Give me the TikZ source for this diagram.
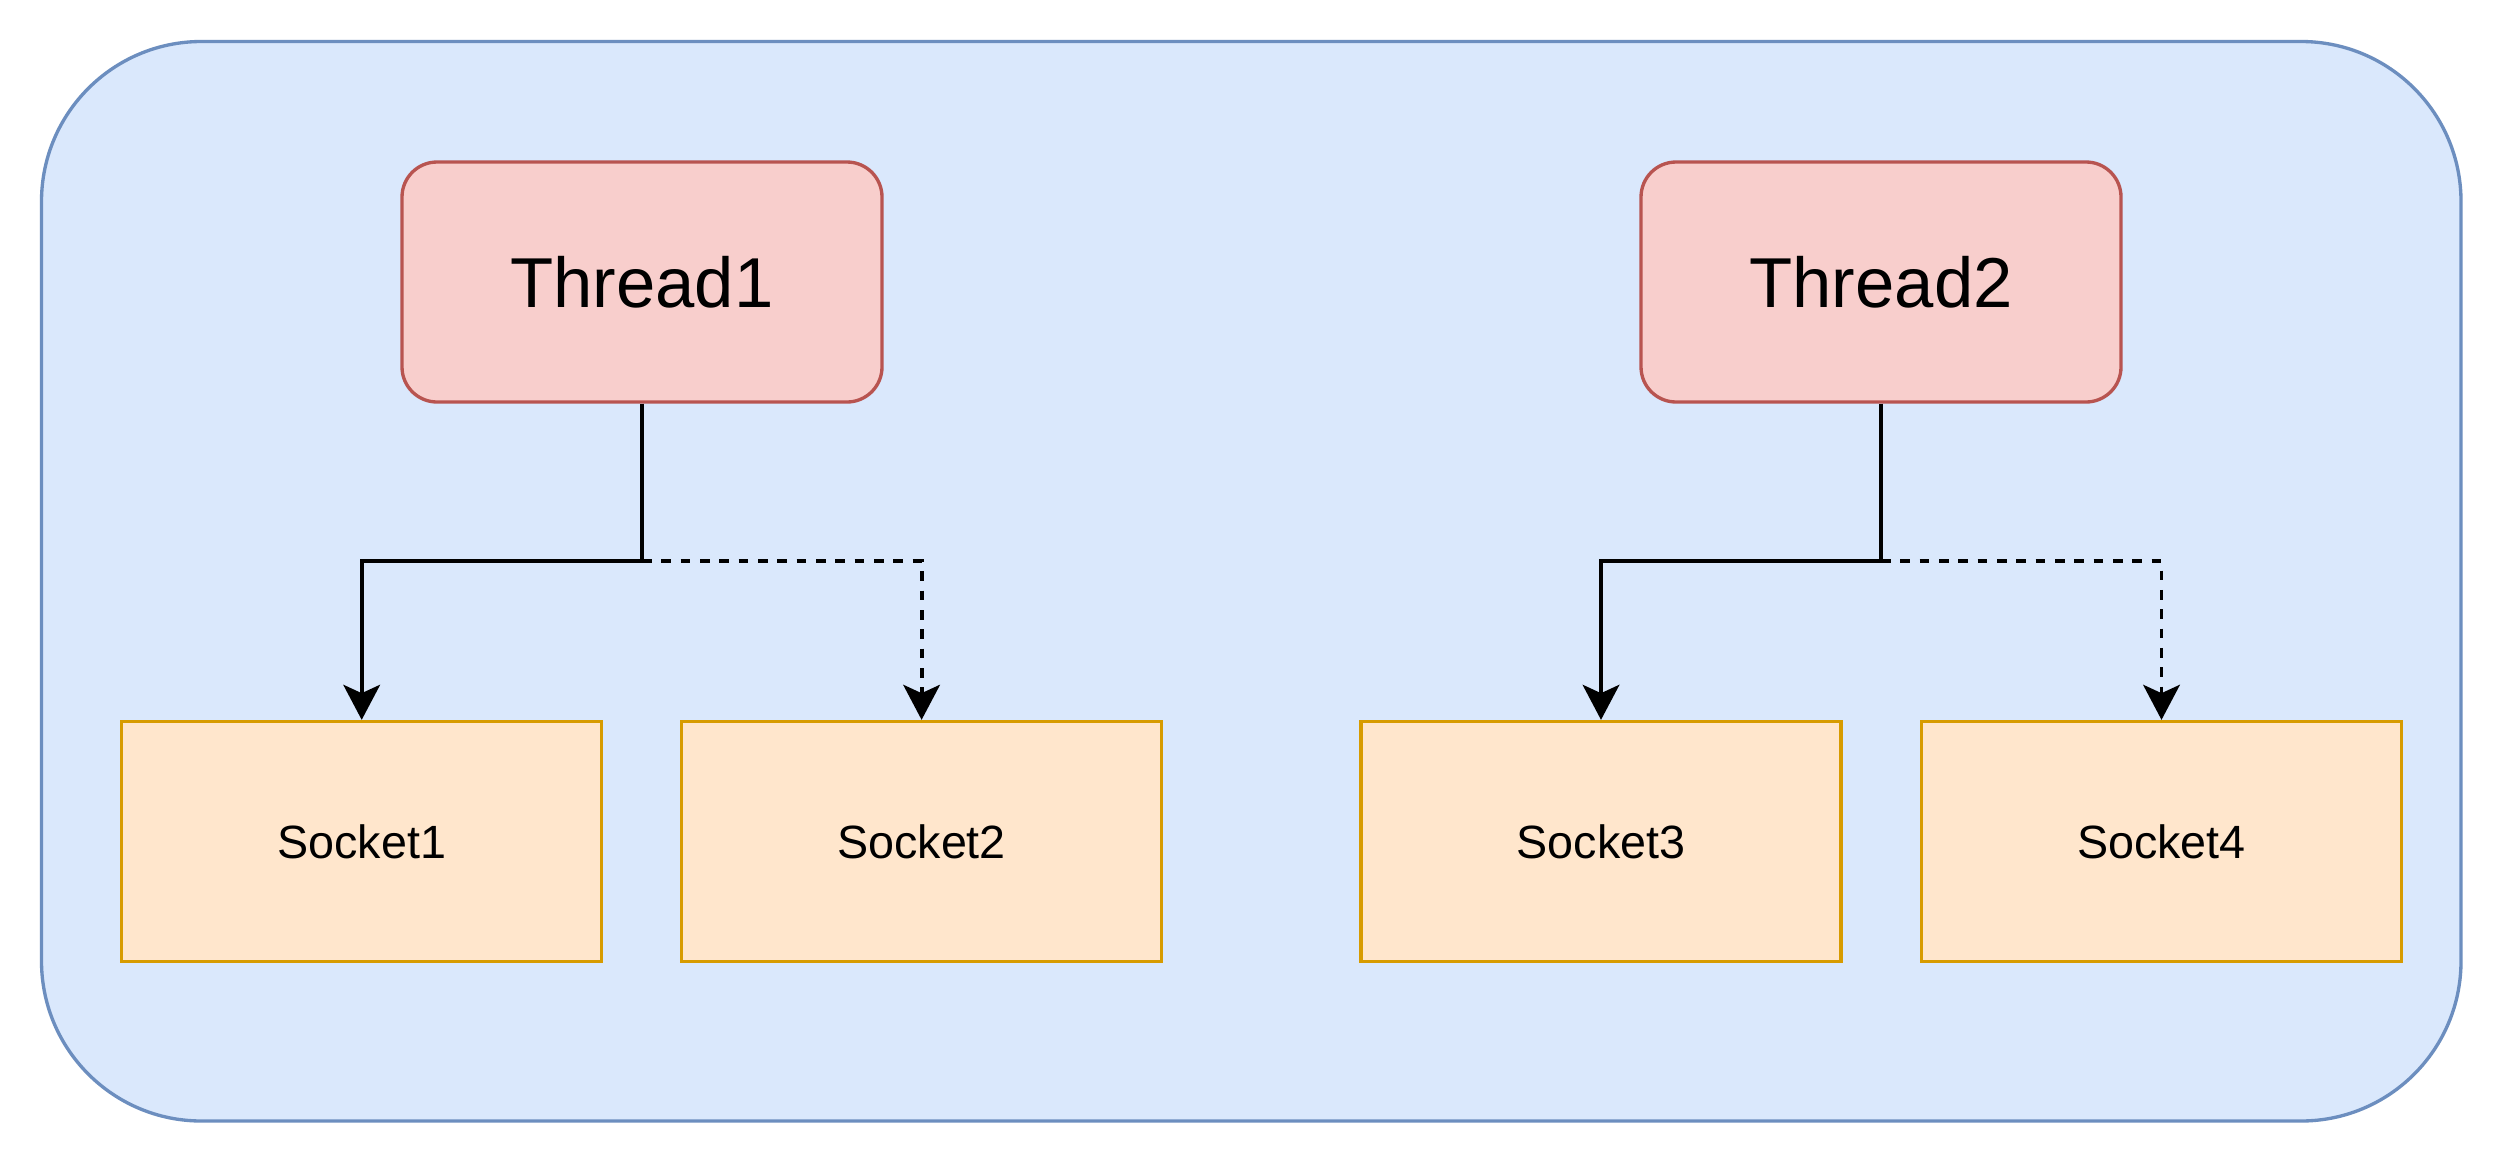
\documentclass[tikz,border=0pt]{standalone}
\usepackage{fontspec}
\setmainfont{Liberation Sans}
\usetikzlibrary{arrows.meta}
\definecolor{outerfill}{HTML}{DAE8FC}
\definecolor{outerline}{HTML}{6C8EBF}
\definecolor{thfill}{HTML}{F8CECC}
\definecolor{thline}{HTML}{B85450}
\definecolor{skfill}{HTML}{FFE6CC}
\definecolor{skline}{HTML}{D79B00}
\tikzset{
  threadbox/.style={draw=thline, fill=thfill, line width=1pt, rounded corners=10.5pt,
    minimum width=144pt, minimum height=72pt, inner sep=0pt,
    font=\fontsize{21.2pt}{26pt}\selectfont},
  socketbox/.style={draw=skline, fill=skfill, line width=1pt,
    minimum width=144pt, minimum height=72pt, inner sep=0pt,
    font=\fontsize{14pt}{17pt}\selectfont},
  conn/.style={line width=1.15pt, -{Stealth[length=10.5pt,width=11pt,inset=2.5pt]}},
  dashconn/.style={conn, dash pattern=on 2.9pt off 2.9pt},
}
\begin{document}
\begin{tikzpicture}[x=0.3pt,y=-0.3pt]
\useasboundingbox[fill=white] (0,0) rectangle (2504,1164);
\draw[draw=outerline, fill=outerfill, line width=1pt, rounded corners=48pt]
  (41.5,41.5) rectangle (2461,1121);
\node[threadbox] (t1) at (642,282) {Thread1};
\node[threadbox] (t2) at (1881,282) {Thread2};
\node[socketbox] (s1) at (361.7,841.5) {Socket1};
\node[socketbox] (s2) at (921.6,841.5) {Socket2};
\node[socketbox] (s3) at (1601,841.5) {Socket3};
\node[socketbox] (s4) at (2161.5,841.5) {Socket4};
\coordinate (b1) at (642,561);
\coordinate (b2) at (1881,561);
\draw[conn] (t1.south) -- (b1) -| (s1.north);
\draw[dashconn] (b1) -| (s2.north);
\draw[conn] (t2.south) -- (b2) -| (s3.north);
\draw[dashconn] (b2) -| (s4.north);
\end{tikzpicture}
\end{document}
